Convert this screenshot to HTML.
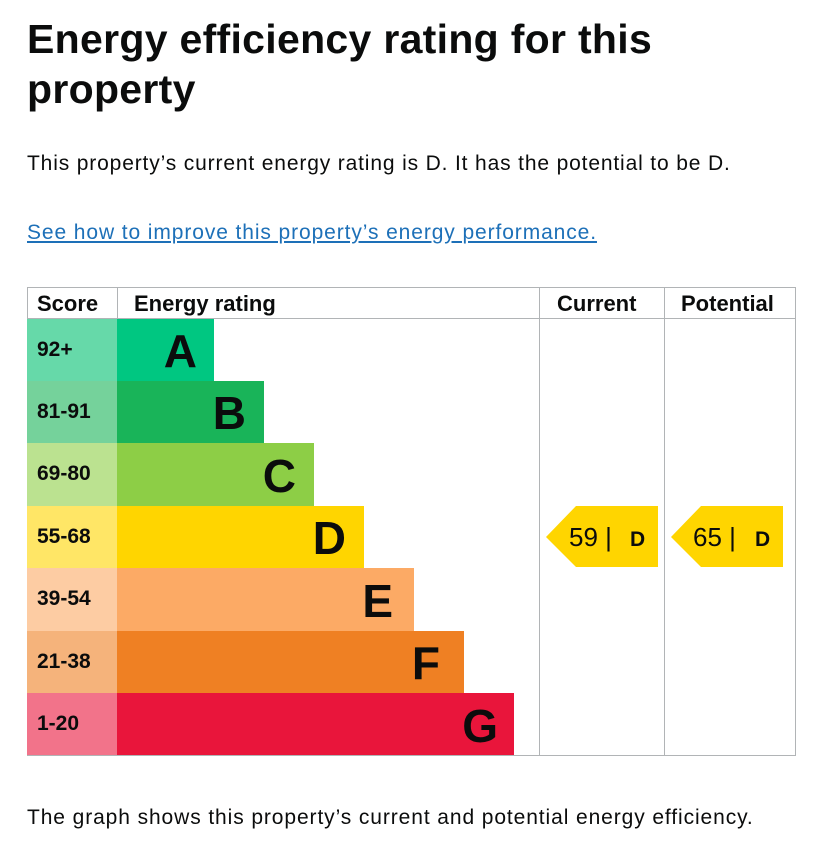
<!DOCTYPE html>
<html><head><style>
body{margin:0;background:#fff;font-family:"Liberation Sans",Arial,sans-serif;color:#0b0c0c;width:814px;height:849px;overflow:hidden;position:relative}
h1{position:absolute;left:27px;top:14px;margin:0;font-size:41px;line-height:50px;font-weight:bold;letter-spacing:0.3px}
.p{position:absolute;left:27px;font-size:21px;margin:0;letter-spacing:0.85px}
a{color:#1d70b8;text-decoration:underline}
</style></head><body>
<h1>Energy efficiency rating for this<br>property</h1>
<p class="p" style="top:152px">This property’s current energy rating is D. It has the potential to be D.</p>
<p class="p" style="top:221px;letter-spacing:0.9px"><a>See how to improve this property’s energy performance.</a></p>
<svg style="position:absolute;left:0;top:0" width="814" height="849" font-family="Liberation Sans,Arial,sans-serif">
<g font-weight="bold" fill="#0b0c0c">
<rect x="27.5" y="287.5" width="768" height="468" fill="none" stroke="#b1b4b6"/>
<line x1="27" y1="318.5" x2="796" y2="318.5" stroke="#b1b4b6"/>
<line x1="117.5" y1="288" x2="117.5" y2="318" stroke="#b1b4b6"/>
<line x1="539.5" y1="288" x2="539.5" y2="756" stroke="#b1b4b6"/>
<line x1="664.5" y1="288" x2="664.5" y2="756" stroke="#b1b4b6"/>
<text x="37" y="311" font-size="22">Score</text>
<text x="134" y="311" font-size="22">Energy rating</text>
<text x="557" y="311" font-size="22">Current</text>
<text x="681" y="311" font-size="22">Potential</text>

<rect x="27" y="319" width="90" height="62" fill="#66d9a9"/><rect x="117" y="319" width="97" height="62" fill="#00c781"/>
<rect x="27" y="381" width="90" height="62" fill="#75d29b"/><rect x="117" y="381" width="147" height="62" fill="#19b459"/>
<rect x="27" y="443" width="90" height="63" fill="#bbe290"/><rect x="117" y="443" width="197" height="63" fill="#8dce46"/>
<rect x="27" y="506" width="90" height="62" fill="#ffe666"/><rect x="117" y="506" width="247" height="62" fill="#ffd500"/>
<rect x="27" y="568" width="90" height="63" fill="#fdcca3"/><rect x="117" y="568" width="297" height="63" fill="#fcaa65"/>
<rect x="27" y="631" width="90" height="62" fill="#f5b37b"/><rect x="117" y="631" width="347" height="62" fill="#ef8023"/>
<rect x="27" y="693" width="90" height="62" fill="#f2738a"/><rect x="117" y="693" width="397" height="62" fill="#e9153b"/>

<g font-size="21">
<text x="37" y="356">92+</text><text x="37" y="418">81-91</text><text x="37" y="480">69-80</text>
<text x="37" y="543">55-68</text><text x="37" y="605">39-54</text><text x="37" y="668">21-38</text><text x="37" y="730">1-20</text>
</g>
<g font-size="46" text-anchor="end">
<text x="197" y="367">A</text><text x="246" y="429">B</text><text x="296" y="492">C</text>
<text x="346" y="554">D</text><text x="393" y="617">E</text><text x="440" y="679">F</text><text x="498" y="742">G</text>
</g>
<polygon points="546,537 576,506 658,506 658,567 576,567" fill="#ffd500"/>
<polygon points="671,537 701,506 783,506 783,567 701,567" fill="#ffd500"/>
<text x="569" y="546" font-size="26" font-weight="normal">59 |</text><text x="630" y="546" font-size="21">D</text>
<text x="693" y="546" font-size="26" font-weight="normal">65 |</text><text x="755" y="546" font-size="21">D</text>
</g></svg>
<p class="p" style="top:806px;letter-spacing:0.9px">The graph shows this property’s current and potential energy efficiency.</p>
</body></html>
